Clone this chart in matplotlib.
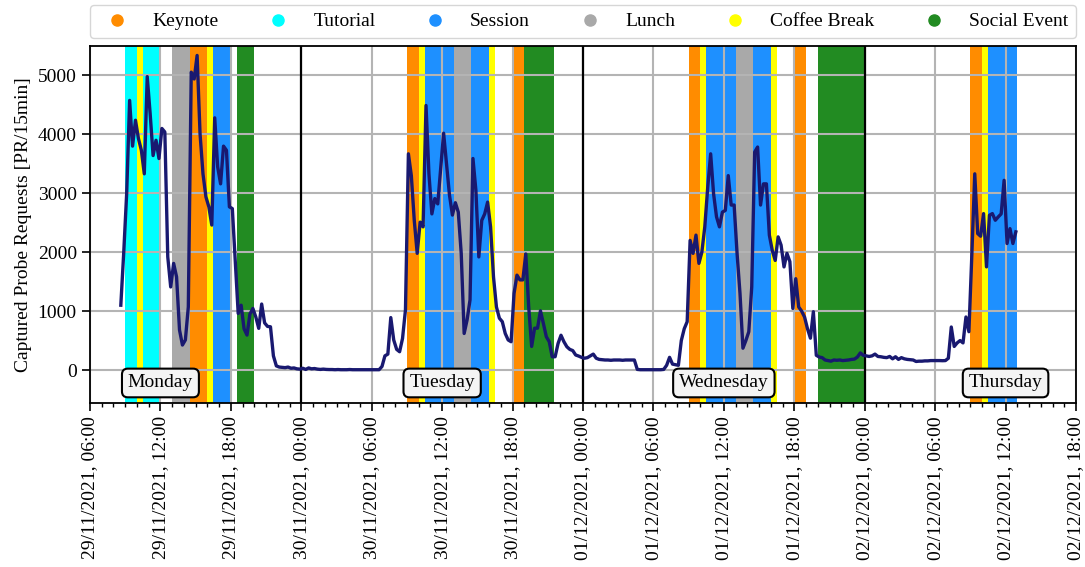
import numpy as np
import pandas as pd
import matplotlib
matplotlib.use("Agg")
import matplotlib.pyplot as plt
import matplotlib.dates as mdates
from matplotlib.lines import Line2D

plt.rcParams['font.family'] = ['Liberation Serif', 'DejaVu Serif']

# ---------------- data ----------------
series_start = "2021-11-29 08:37:30"   # 15-minute bins
probe_requests = [
    1100, 2000, 3000, 4576, 3800, 4240, 3930, 3730, 3330, 4980,
    4350, 3640, 3900, 3590, 4100, 4040, 1920, 1410, 1810, 1580,
    680, 424, 510, 1070, 5056, 4940, 5340, 4010, 3330, 2940,
    2770, 2460, 4280, 3450, 3160, 3800, 3730, 2770, 2740, 1860,
    960, 1100, 700, 593, 950, 1045, 900, 707, 1120, 800,
    740, 734, 240, 70, 50, 45, 40, 50, 30, 35,
    20, 15, 30, 10, 35, 20, 25, 15, 10, 15,
    10, 8, 8, 5, 8, 5, 5, 5, 8, 5,
    5, 5, 5, 5, 5, 5, 5, 5, 5, 60,
    240, 270, 890, 510, 350, 310, 535, 1020, 3670, 3300,
    2540, 1980, 2510, 2430, 4490, 3330, 2650, 2910, 2820, 3420,
    4020, 3500, 2970, 2630, 2840, 2680, 1980, 620, 850, 1190,
    3590, 3050, 1920, 2540, 2650, 2850, 2430, 1580, 1070, 880,
    820, 620, 510, 480, 1300, 1610, 1530, 1530, 1970, 1070,
    400, 710, 710, 1005, 790, 565, 480, 225, 225, 450,
    590, 480, 395, 350, 330, 255, 237, 215, 200, 210,
    240, 270, 200, 180, 175, 170, 170, 165, 170, 170,
    170, 165, 170, 170, 170, 170, 10, 5, 5, 5,
    5, 5, 5, 5, 5, 10, 80, 215, 100, 90,
    80, 500, 700, 820, 2200, 1980, 2290, 1810, 2000, 2430,
    3100, 3670, 2990, 2600, 2430, 2680, 2710, 3300, 2800, 2800,
    1980, 1300, 370, 500, 650, 1410, 3700, 3785, 2800, 3160,
    3160, 2290, 2030, 1860, 2260, 2120, 1750, 1980, 1840, 1045,
    1550, 1070, 1000, 900, 700, 540, 990, 250, 220, 210,
    170, 160, 150, 170, 165, 170, 160, 165, 170, 180,
    185, 220, 290, 250, 240, 230, 240, 270, 230, 225,
    215, 210, 230, 190, 225, 180, 210, 190, 180, 175,
    170, 145, 150, 150, 155, 155, 160, 160, 160, 160,
    158, 160, 200, 730, 400, 460, 500, 460, 900, 650,
    1950, 3330, 2316, 2271, 2655, 1751, 2627, 2655, 2542, 2599,
    2650, 3220, 2147, 2400, 2147, 2345,
]

event_types = ["Keynote", "Tutorial", "Session", "Lunch", "Coffee Break", "Social Event"]
event_colors = ["darkorange", "cyan", "dodgerblue", "darkgray", "yellow", "forestgreen"]

event_start = [
    "2021-11-29 09:00", "2021-11-29 10:00", "2021-11-29 10:30", "2021-11-29 13:00",
    "2021-11-29 14:30", "2021-11-29 16:00", "2021-11-29 16:30", "2021-11-29 18:30",
    "2021-11-30 09:00", "2021-11-30 10:00", "2021-11-30 10:30", "2021-11-30 13:00",
    "2021-11-30 14:30", "2021-11-30 16:00", "2021-11-30 18:00", "2021-11-30 19:00",
    "2021-12-01 09:00", "2021-12-01 10:00", "2021-12-01 10:30", "2021-12-01 13:00",
    "2021-12-01 14:30", "2021-12-01 16:00", "2021-12-01 18:00", "2021-12-01 20:00",
    "2021-12-02 09:00", "2021-12-02 10:00", "2021-12-02 10:30",
]
event_end = [
    "2021-11-29 10:00", "2021-11-29 10:30", "2021-11-29 12:00", "2021-11-29 14:30",
    "2021-11-29 16:00", "2021-11-29 16:30", "2021-11-29 18:00", "2021-11-29 20:00",
    "2021-11-30 10:00", "2021-11-30 10:30", "2021-11-30 13:00", "2021-11-30 14:30",
    "2021-11-30 16:00", "2021-11-30 16:30", "2021-11-30 19:00", "2021-11-30 21:30",
    "2021-12-01 10:00", "2021-12-01 10:30", "2021-12-01 13:00", "2021-12-01 14:30",
    "2021-12-01 16:00", "2021-12-01 16:30", "2021-12-01 19:00", "2021-12-02 00:00",
    "2021-12-02 10:00", "2021-12-02 10:30", "2021-12-02 13:00",
]
event_kind = [
    "Tutorial", "Coffee Break", "Tutorial", "Lunch",
    "Keynote", "Coffee Break", "Session", "Social Event",
    "Keynote", "Coffee Break", "Session", "Lunch",
    "Session", "Coffee Break", "Keynote", "Social Event",
    "Keynote", "Coffee Break", "Session", "Lunch",
    "Session", "Coffee Break", "Keynote", "Social Event",
    "Keynote", "Coffee Break", "Session",
]

day_names = ["Monday", "Tuesday", "Wednesday", "Thursday"]
day_dates = ["2021-11-29", "2021-11-30", "2021-12-01", "2021-12-02"]

x_min, x_max = "2021-11-29 06:00", "2021-12-02 18:00"
y_min, y_max = -560, 5500
y_ticks = [0, 1000, 2000, 3000, 4000, 5000]

# ---------------- plot ----------------
fig = plt.figure(figsize=(10.85, 5.67), dpi=100)
ax = fig.add_axes([90 / 1085, 1 - 403 / 567, (1076 - 90) / 1085, (403 - 46) / 567])

color_of = dict(zip(event_types, event_colors))
for s, e, k in zip(event_start, event_end, event_kind):
    ax.axvspan(mdates.date2num(pd.Timestamp(s).to_pydatetime()),
               mdates.date2num(pd.Timestamp(e).to_pydatetime()),
               color=color_of[k], lw=0, zorder=1)

for d in day_dates[1:]:
    ax.axvline(mdates.date2num(pd.Timestamp(d).to_pydatetime()), color="black", lw=1.6, zorder=2)

times = pd.date_range(series_start, periods=len(probe_requests), freq="15min")
ax.plot(mdates.date2num(times.to_pydatetime()), probe_requests,
        color="midnightblue", lw=2.4, zorder=3)

for name, d in zip(day_names, day_dates):
    noon = pd.Timestamp(d) + pd.Timedelta(hours=12)
    ax.text(mdates.date2num(noon.to_pydatetime()), -220, name, ha="center", va="center",
            fontsize=14, zorder=5,
            bbox=dict(boxstyle="round,pad=0.3", fc="#f4f4f4", ec="black", lw=1.5))

ax.set_xlim(mdates.date2num(pd.Timestamp(x_min).to_pydatetime()),
            mdates.date2num(pd.Timestamp(x_max).to_pydatetime()))
ax.set_ylim(y_min, y_max)
ax.set_yticks(y_ticks)
ax.xaxis.set_major_locator(mdates.HourLocator(byhour=[0, 6, 12, 18]))
ax.xaxis.set_minor_locator(mdates.HourLocator())
ax.xaxis.set_major_formatter(mdates.DateFormatter("%d/%m/%Y, %H:%M"))
ax.tick_params(axis="x", labelrotation=90, labelsize=14, length=6, width=1.2)
ax.tick_params(axis="x", which="minor", length=3, width=1.0)
ax.tick_params(axis="y", labelsize=14, length=6, width=1.2)
ax.set_axisbelow("line")
ax.grid(True, which="major", color="#b4b4b4", lw=1.5)
for sp in ax.spines.values():
    sp.set_linewidth(1.3)
ax.set_ylabel("Captured Probe Requests [PR/15min]", fontsize=14)

handles = [Line2D([0], [0], marker="o", ls="", color=c, markersize=8) for c in event_colors]
ax.legend(handles, event_types, loc="lower left", bbox_to_anchor=(0, 1.022, 1, 0.1),
          mode="expand", ncol=6, fontsize=14, borderaxespad=0, frameon=True,
          edgecolor="#cccccc", fancybox=True)

fig.savefig("out.png", dpi=100)
